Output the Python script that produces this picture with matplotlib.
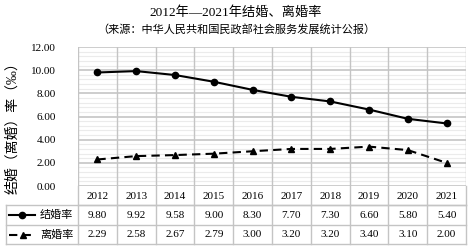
import matplotlib
matplotlib.use("Agg")
import matplotlib.pyplot as plt
from matplotlib.transforms import blended_transform_factory
from matplotlib.lines import Line2D

years = ["2012", "2013", "2014", "2015", "2016", "2017", "2018", "2019", "2020", "2021"]
marriage = [9.80, 9.92, 9.58, 9.00, 8.30, 7.70, 7.30, 6.60, 5.80, 5.40]
divorce = [2.29, 2.58, 2.67, 2.79, 3.00, 3.20, 3.20, 3.40, 3.10, 2.00]
series_names = ["结婚率", "离婚率"]
yticks = [0, 2, 4, 6, 8, 10, 12]

FONT = ['Liberation Serif', 'Noto Sans CJK SC', 'DejaVu Sans']
plt.rcParams['font.family'] = FONT

W, H = 472, 249
fig = plt.figure(figsize=(W / 100, H / 100), dpi=100)

# pixel layout
px_left, px_right, px_top, px_bottom = 78, 466, 47, 186
ax = fig.add_axes([px_left / W, 1 - px_bottom / H, (px_right - px_left) / W, (px_bottom - px_top) / H])

overlay = fig.add_axes([0, 0, 1, 1], facecolor='none')
overlay.set_xlim(0, W)
overlay.set_ylim(H, 0)
overlay.axis('off')

x = list(range(len(years)))
ax.set_xlim(-0.5, len(years) - 0.5)
ax.set_ylim(0, 12)

# gridlines
for v in [i * 0.4 for i in range(31)]:
    major = abs(v / 2 - round(v / 2)) < 1e-6
    ax.axhline(v, color='#c0c0c0' if major else '#ebebeb', lw=1.1 if major else 0.8, zorder=0)
for i in range(len(years) + 1):
    ax.axvline(i - 0.5, color='#c4c4c4', lw=1.0, zorder=0)

ax.plot(x, marriage, color='black', lw=1.5, marker='o', markersize=4.5, zorder=3)
ax.plot(x, divorce, color='black', lw=1.5, ls=(0, (4, 2.5)), marker='^', markersize=4.5, zorder=3)

ax.set_yticks(yticks)
ax.set_yticklabels([f"{t:.2f}" for t in yticks], fontsize=8)
ax.tick_params(axis='y', length=0, pad=16)
ax.set_xticks([])
for s in ax.spines.values():
    s.set_visible(False)

# titles
fig.text(0.5, 1 - 13 / H, "2012年—2021年结婚、离婚率", ha='center', va='center', fontsize=9.5)
fig.text(0.5, 1 - 29 / H, "（来源：中华人民共和国民政部社会服务发展统计公报）", ha='center', va='center', fontsize=8.0)
fig.text(13 / W, 1 - 125 / H, "结婚（离婚）率（‰）", rotation=90, ha='center', va='center', fontsize=10)

# data table
tr = blended_transform_factory(ax.transData, overlay.transData)
row_y = [186, 205, 225, 244]
grid_c = '#c4c4c4'
overlay.plot([px_left, px_right], [row_y[1], row_y[1]], color=grid_c, lw=1.0)
overlay.plot([6, px_right], [row_y[1], row_y[1]], color=grid_c, lw=1.0)
overlay.plot([6, px_right], [row_y[2], row_y[2]], color=grid_c, lw=1.0)
overlay.plot([6, px_right], [row_y[3], row_y[3]], color=grid_c, lw=1.0)
overlay.plot([6, 6], [row_y[1], row_y[3]], color=grid_c, lw=1.0)
for i in range(len(years) + 1):
    overlay.plot([i - 0.5, i - 0.5], [row_y[0], row_y[3]], color=grid_c, lw=1.0, transform=tr)

for i, yr in enumerate(years):
    overlay.text(i, (row_y[0] + row_y[1]) / 2 + 1, yr, transform=tr, ha='center', va='center', fontsize=8)
    overlay.text(i, (row_y[1] + row_y[2]) / 2, f"{marriage[i]:.2f}", transform=tr, ha='center', va='center', fontsize=8)
    overlay.text(i, (row_y[2] + row_y[3]) / 2, f"{divorce[i]:.2f}", transform=tr, ha='center', va='center', fontsize=8)

# legend keys
y1 = (row_y[1] + row_y[2]) / 2
y2 = (row_y[2] + row_y[3]) / 2
overlay.add_line(Line2D([9, 35], [y1, y1], color='black', lw=1.5))
overlay.plot([22], [y1], marker='o', color='black', markersize=4.5)
overlay.add_line(Line2D([9, 35], [y2, y2], color='black', lw=1.5, ls=(0, (4, 2.5))))
overlay.plot([23], [y2], marker='^', color='black', markersize=4.5)
overlay.text(40, y1, series_names[0], ha='left', va='center', fontsize=8)
overlay.text(40, y2, series_names[1], ha='left', va='center', fontsize=8)

fig.savefig("out.png", dpi=100)
